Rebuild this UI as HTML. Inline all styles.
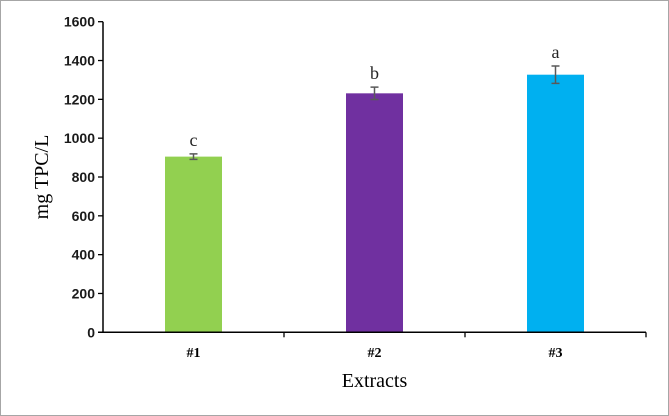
<!DOCTYPE html>
<html><head><meta charset="utf-8"><style>
html,body{margin:0;padding:0;background:#fff}
svg{display:block;font-family:"Liberation Serif",serif}
</style></head><body>
<svg id="chart" width="669" height="416">
<rect x="0.5" y="0.5" width="668" height="415" fill="#fff" stroke="#a6a6a6"/>
<g id="g"></g>
</svg>
<script>
const categories=["#1","#2","#3"];
const values=[905,1231,1327];
const errors=[14,32,45];
const letters=["c","b","a"];
const colors=["#92d050","#7030a0","#00b0f0"];
const yTicks=[0,200,400,600,800,1000,1200,1400,1600];
const NS="http://www.w3.org/2000/svg";
const g=document.getElementById('g');
const x0=103,x1=646,y0=332.3,y1=21.7,ymax=1600;
const y=v=>y0-(v/ymax)*(y0-y1);
const band=(x1-x0)/categories.length;
const xc=i=>x0+band*(i+0.5);
const bw=57;
function el(t,a,txt){const e=document.createElementNS(NS,t);for(const k in a)e.setAttribute(k,a[k]);if(txt!==undefined)e.textContent=txt;g.appendChild(e);return e;}
yTicks.forEach(t=>{
 const l=el('line',{x1:x0-5,x2:x0,y1:y(t),y2:y(t),stroke:'#000','stroke-width':1.3});
 
 
 const tx=el('text',{x:x0-8,y:y(t)+5,'text-anchor':'end','font-size':14,'font-weight':'bold','font-family':'"Liberation Sans",sans-serif',fill:'#1a1a1a'},t);
 
 
});
categories.forEach((c,i)=>{
 const r=el('rect',{x:xc(i)-bw/2,y:y(values[i]),width:bw,height:y0-y(values[i]),fill:colors[i]});
 
 
 const e1=y(values[i]+errors[i]),e2=y(values[i]-errors[i]),cx=xc(i);
 const eb=el('path',{d:`M${cx-4},${e1}H${cx+4}M${cx},${e1}V${e2}M${cx-4},${e2}H${cx+4}`,stroke:'#595959','stroke-width':1.5,fill:'none'});
 
 
 const lt=el('text',{x:cx,y:e1-8,'text-anchor':'middle','font-size':18,fill:'#262626'},letters[i]);
 
 
 const tk=el('line',{x1:x0+band*(i+1),x2:x0+band*(i+1),y1:y0,y2:y0+5,stroke:'#000','stroke-width':1.3});
 
 
 const cl=el('text',{x:cx,y:357,'text-anchor':'middle','font-size':14,'font-weight':'bold',fill:'#000'},c);
 
 
});
const ya=el('line',{x1:x0,x2:x0,y1:y1,y2:y0,stroke:'#000','stroke-width':1.5});


const xa=el('line',{x1:x0-5,x2:x1,y1:y0,y2:y0,stroke:'#000','stroke-width':1.5});


const xt=el('text',{x:(x0+x1)/2,y:387,'text-anchor':'middle','font-size':20,fill:'#000'},'Extracts');


const yt=el('text',{x:0,y:0,'text-anchor':'middle','font-size':20,fill:'#000',transform:`translate(48,${(y0+y1)/2}) rotate(-90)`},'mg TPC/L');


</script>
</body></html>
